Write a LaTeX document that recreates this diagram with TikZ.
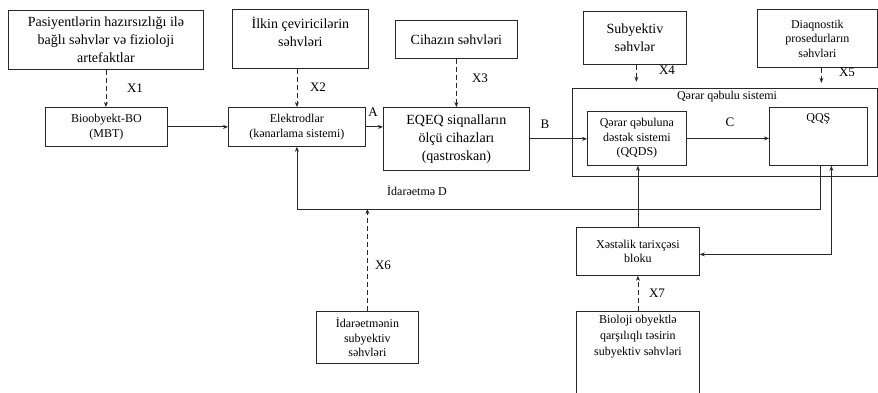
\documentclass[tikz,border=0pt]{standalone}
\usepackage{fontspec}
\setmainfont{Liberation Serif}
\usepackage{tikz}
\usetikzlibrary{arrows.meta,positioning,calc}
\definecolor{lin}{RGB}{40,40,40}

\begin{document}
\begin{tikzpicture}[x=1pt,y=-1pt,line width=0.8pt,draw=lin]
\useasboundingbox (0,0) rectangle (878,393);
\clip (0,0) rectangle (878,393);
\tikzset{blk/.style={draw=lin,anchor=north west,align=center,inner sep=1pt,font=\fontsize{12}{14.5}\selectfont}}
\tikzset{bigtx/.style={font=\fontsize{14}{18}\selectfont}}
\tikzset{arr/.style={-{Stealth[length=5pt,width=4pt]},lin}}
\tikzset{darr/.style={arr,dash pattern=on 5pt off 3pt}}
\tikzset{lbl/.style={font=\fontsize{13}{15}\selectfont,inner sep=0pt}}
% error sources (top row)
\node[blk,bigtx,minimum width=195,minimum height=59] (pas) at (8,10) {Pasiyentlərin hazırsızlığı ilə\\ bağlı səhvlər və fizioloji\\ artefaktlar};
\node[blk,bigtx,minimum width=136,minimum height=59,text depth=14pt] (ilk) at (232,9) {İlkin çeviricilərin\\ səhvləri};
\node[blk,bigtx,minimum width=122,minimum height=38] (cih) at (395,20) {Cihazın səhvləri};
\node[blk,bigtx,minimum width=103,minimum height=53] (sub) at (583,11) {Subyektiv\\ səhvlər};
\node[blk,minimum width=120,minimum height=58] (dia) at (757,9) {Diaqnostik\\ prosedurların\\ səhvləri};
% main chain
\node[blk,minimum width=122,minimum height=39] (bio) at (45,107) {Bioobyekt-BO\\ (MBT)};
\node[blk,minimum width=137,minimum height=39] (ele) at (228,107) {Elektrodlar\\ (kənarlama sistemi)};
\node[blk,bigtx,minimum width=146,minimum height=63] (eqe) at (383,107) {EQEQ siqnalların\\ ölçü cihazları\\ (qastroskan)};
% decision system
\node[blk,minimum width=305,minimum height=88] (sys) at (572,88) {};
\node[lbl,font=\fontsize{12}{14}\selectfont] (syst) at (727,97) {Qərar qəbulu sistemi};
\node[blk,minimum width=99,minimum height=54] (qqds) at (587,111) {Qərar qəbuluna\\ dəstək sistemi\\ (QQDS)};
\node[blk,minimum width=98,minimum height=58,text depth=38pt] (qqsh) at (769,107) {QQŞ};
% lower blocks
\node[blk,minimum width=123,minimum height=48] (xes) at (576,227) {Xəstəlik tarixçəsi\\ bloku};
\node[blk,minimum width=102,minimum height=52] (idr) at (316,311) {İdarəetmənin\\ subyektiv\\ səhvləri};
\node[blk,minimum width=123,minimum height=110,text depth=62pt,font=\fontsize{12}{16}\selectfont] (bol) at (576,311) {Bioloji obyektlə\\ qarşılıqlı təsirin\\ subyektiv səhvləri};
% dashed error inputs
\draw[darr] (pas.south) -- (pas.south |- bio.north);
\draw[darr] (ilk.south -| ele.north) -- (ele.north);
\draw[darr] (cih.south) -- (eqe.north);
\draw[darr] ([xshift=1.5]sub.south) -- ++(0,17);
\draw[darr] ([xshift=4]dia.south) -- ++(0,15);
\draw[darr] (idr.north) -- ++(0,-102);
\draw[darr] (bol.north) -- (xes.south);
% signal path
\draw[arr] (bio.east) -- (ele.west);
\draw[arr] (ele.east) -- (ele.east -| eqe.west);
\draw[arr] (eqe.east) -- (eqe.east -| qqds.west);
\draw[arr] (qqds.east) -- (qqds.east -| qqsh.west);
\draw[arr] (xes.north) -- (xes.north |- qqds.south);
% feedback
\draw[arr] ([xshift=2]qqsh.south) -- ++(0,44) -| (ele.south);
\draw[{Stealth[length=5pt,width=4pt]}-{Stealth[length=5pt,width=4pt]},lin] ([yshift=-3]xes.east) -| ([xshift=13]qqsh.south);
% labels
\node[lbl] (x1) at (135,88) {X1};
\node[lbl] (x2) at (318,87) {X2};
\node[lbl] (x3) at (480,78) {X3};
\node[lbl] (x4) at (667,70) {X4};
\node[lbl] (x5) at (847,72) {X5};
\node[lbl] (x6) at (383,265) {X6};
\node[lbl] (x7) at (657,293) {X7};
\node[lbl] (la) at (373,112) {A};
\node[lbl] (lb) at (545,124) {B};
\node[lbl] (lc) at (730,122) {C};
\node[lbl,font=\fontsize{12}{14}\selectfont] (ld) at (417,191) {İdarəetmə D};
\end{tikzpicture}
\end{document}
